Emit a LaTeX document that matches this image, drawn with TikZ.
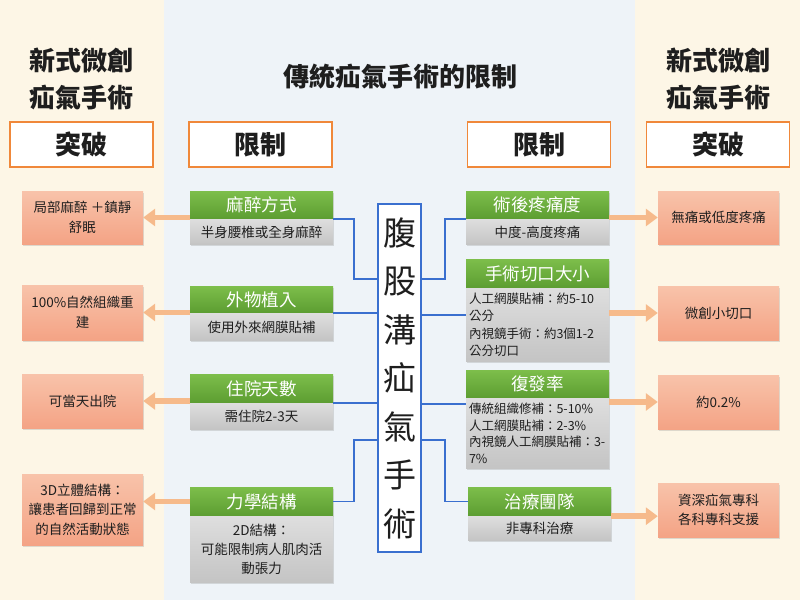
\documentclass[tikz,border=0pt]{standalone}
\usepackage{fontspec}
\setmainfont{Noto Sans CJK TC}
\usetikzlibrary{arrows.meta,shadows,positioning,calc}
\definecolor{cream}{HTML}{FDF6E6}
\definecolor{midbg}{HTML}{EEF3F8}
\definecolor{hdrorange}{HTML}{F0883A}
\definecolor{salT}{HTML}{F8C3AA}
\definecolor{salB}{HTML}{F4A385}
\definecolor{grnT}{HTML}{7DBE4B}
\definecolor{grnB}{HTML}{5C9D31}
\definecolor{gryT}{HTML}{DEDEDE}
\definecolor{gryB}{HTML}{C4C4C4}
\definecolor{connblue}{HTML}{3A6FCF}
\definecolor{arrorange}{HTML}{F6BA8B}
\definecolor{txt}{HTML}{1E1E1E}
\begin{document}
\begin{tikzpicture}[x=1pt,y=-1pt,
  title/.style={font=\fontsize{26}{37}\selectfont\bfseries, text=txt, align=center},
  hdr/.style={draw=hdrorange, line width=1.2pt, fill=white, minimum width=143pt, minimum height=45pt, inner sep=0pt, font=\fontsize{26}{30}\selectfont\bfseries, text=txt},
  shad/.style={drop shadow={shadow xshift=1pt, shadow yshift=-1.5pt, opacity=0.25}},
  obox/.style={shad, top color=salT, bottom color=salB, minimum width=121pt, inner sep=0pt, align=center, font=\fontsize{13.5}{19.5}\selectfont, text=txt},
  gbox/.style={shad, top color=grnT, bottom color=grnB, minimum width=143pt, inner sep=0pt, font=\fontsize{17.5}{20}\selectfont, text=white},
  ybox/.style={shad, top color=gryT, bottom color=gryB, minimum width=143pt, inner sep=0pt, font=\fontsize{13.5}{18}\selectfont, text=txt, align=center, anchor=north},
  conn/.style={draw=connblue, line width=1.8pt},
  oarr/.style={draw=arrorange, line width=5.5pt, -{Triangle[width=17pt,length=12pt]}}
]
\fill[cream] (0,0) rectangle (800,600);
\fill[midbg] (164,0) rectangle (635,600);
\useasboundingbox (0,0) rectangle (800,600);

% titles
\node[title] (tl) at (81,78.5) {新式微創\\疝氣手術};
\node[title] (tr) at (718,78.5) {新式微創\\疝氣手術};
\node[title] (tm) at (400,77) {傳統疝氣手術的限制};

% header boxes
\node[hdr] (h1) at (81.5,144.5) {突破};
\node[hdr] (h2) at (260.5,144.5) {限制};
\node[hdr] (h3) at (539,144.5) {限制};
\node[hdr] (h4) at (718,144.5) {突破};

% center box
\node[draw=connblue, line width=1.8pt, fill=white, minimum width=43pt, minimum height=348pt, inner sep=0pt, align=center, text=txt, font=\fontsize{33}{48.5}\selectfont] (cb) at (399.5,378) {腹\\股\\溝\\疝\\氣\\手\\術};

% left green/gray
\node[gbox, minimum height=28pt] (lg1) at (261.5,205) {麻醉方式};
\node[ybox, minimum height=25pt, below=0pt of lg1] (ly1) {半身腰椎或全身麻醉};
\node[gbox, minimum height=27pt] (lg2) at (261.5,299.5) {外物植入};
\node[ybox, minimum height=27pt, below=0pt of lg2] (ly2) {使用外來網膜貼補};
\node[gbox, minimum height=29pt] (lg3) at (261.5,388.5) {住院天數};
\node[ybox, minimum height=26pt, below=0pt of lg3] (ly3) {需住院2-3天};
\node[gbox, minimum height=29pt] (lg4) at (261.5,501.5) {力學結構};
\node[ybox, minimum height=66pt, below=0pt of lg4, font=\fontsize{13.5}{19}\selectfont] (ly4) {2D結構：\\可能限制病人肌肉活\\動張力};

% right green/gray
\node[gbox, minimum height=28pt] (rg1) at (537.5,205) {術後疼痛度};
\node[ybox, minimum height=25pt, below=0pt of rg1] (ry1) {中度-高度疼痛};
\node[gbox, minimum height=29pt] (rg2) at (537.5,273.5) {手術切口大小};
\node[ybox, minimum height=73pt, below=0pt of rg2, align=left, text width=137pt, font=\fontsize{12.5}{17.3}\selectfont] (ry2) {人工網膜貼補：約5-10\\公分\\內視鏡手術：約3個1-2\\公分切口};
\node[gbox, minimum height=28pt] (rg3) at (537.5,384) {復發率};
\node[ybox, minimum height=70pt, below=0pt of rg3, align=left, text width=137pt, font=\fontsize{12.5}{16.5}\selectfont] (ry3) {傳統組織修補：5-10\%\\人工網膜貼補：2-3\%\\內視鏡人工網膜貼補：3-\\7\%};
\node[gbox, minimum height=29pt] (rg4) at (539.5,501.5) {治療團隊};
\node[ybox, minimum height=24pt, below=0pt of rg4] (ry4) {非專科治療};

% orange boxes
\node[obox, minimum height=53pt] (o1) at (82.5,217.5) {局部麻醉 ＋鎮靜\\舒眠};
\node[obox, minimum height=55pt] (o2) at (82.5,312.5) {100\%自然組織重\\建};
\node[obox, minimum height=54pt] (o3) at (82.5,401) {可當天出院};
\node[obox, minimum height=71pt] (o4) at (82.5,509.5) {3D立體結構：\\讓患者回歸到正常\\的自然活動狀態};
\node[obox, minimum height=53pt] (p1) at (718.5,217.5) {無痛或低度疼痛};
\node[obox, minimum height=54pt] (p2) at (718.5,313) {微創小切口};
\node[obox, minimum height=54pt] (p3) at (718.5,402) {約0.2\%};
\node[obox, minimum height=54pt] (p4) at (718.5,510) {資深疝氣專科\\各科專科支援};

% blue connectors
\coordinate (r2c) at ([yshift=-27pt]rg2.south west);
\coordinate (r3c) at ([yshift=-6pt]rg3.south west);
\draw[conn] (lg1.south east) -- ++(21,0) |- ([yshift=99pt]cb.west);
\draw[conn] (lg2.south east) -- (cb.west |- lg2.south east);
\draw[conn] (lg3.south east) -- (cb.west |- lg3.south east);
\draw[conn] (lg4.east) -- ++(21,0) |- ([yshift=-62pt]cb.west);
\draw[conn] (rg1.south west) -- ++(-21,0) |- ([yshift=99pt]cb.east);
\draw[conn] (r2c) -- (cb.east |- r2c);
\draw[conn] (r3c) -- (cb.east |- r3c);
\draw[conn] (rg4.west) -- ++(-23,0) |- ([yshift=-62pt]cb.east);

% orange arrows
\draw[oarr] (lg1.west |- o1.east) -- (o1.east);
\draw[oarr] (lg2.west |- o2.east) -- (o2.east);
\draw[oarr] (lg3.west |- o3.east) -- (o3.east);
\draw[oarr] (lg4.west) -- (o4.east |- lg4.west);
\draw[oarr] (rg1.east |- p1.west) -- (p1.west);
\draw[oarr] (ry2.east |- p2.west) -- (p2.west);
\draw[oarr] (ry3.east |- p3.west) -- (p3.west);
\draw[oarr] (rg4.south east) -- (p4.west |- rg4.south east);
\end{tikzpicture}
\end{document}
